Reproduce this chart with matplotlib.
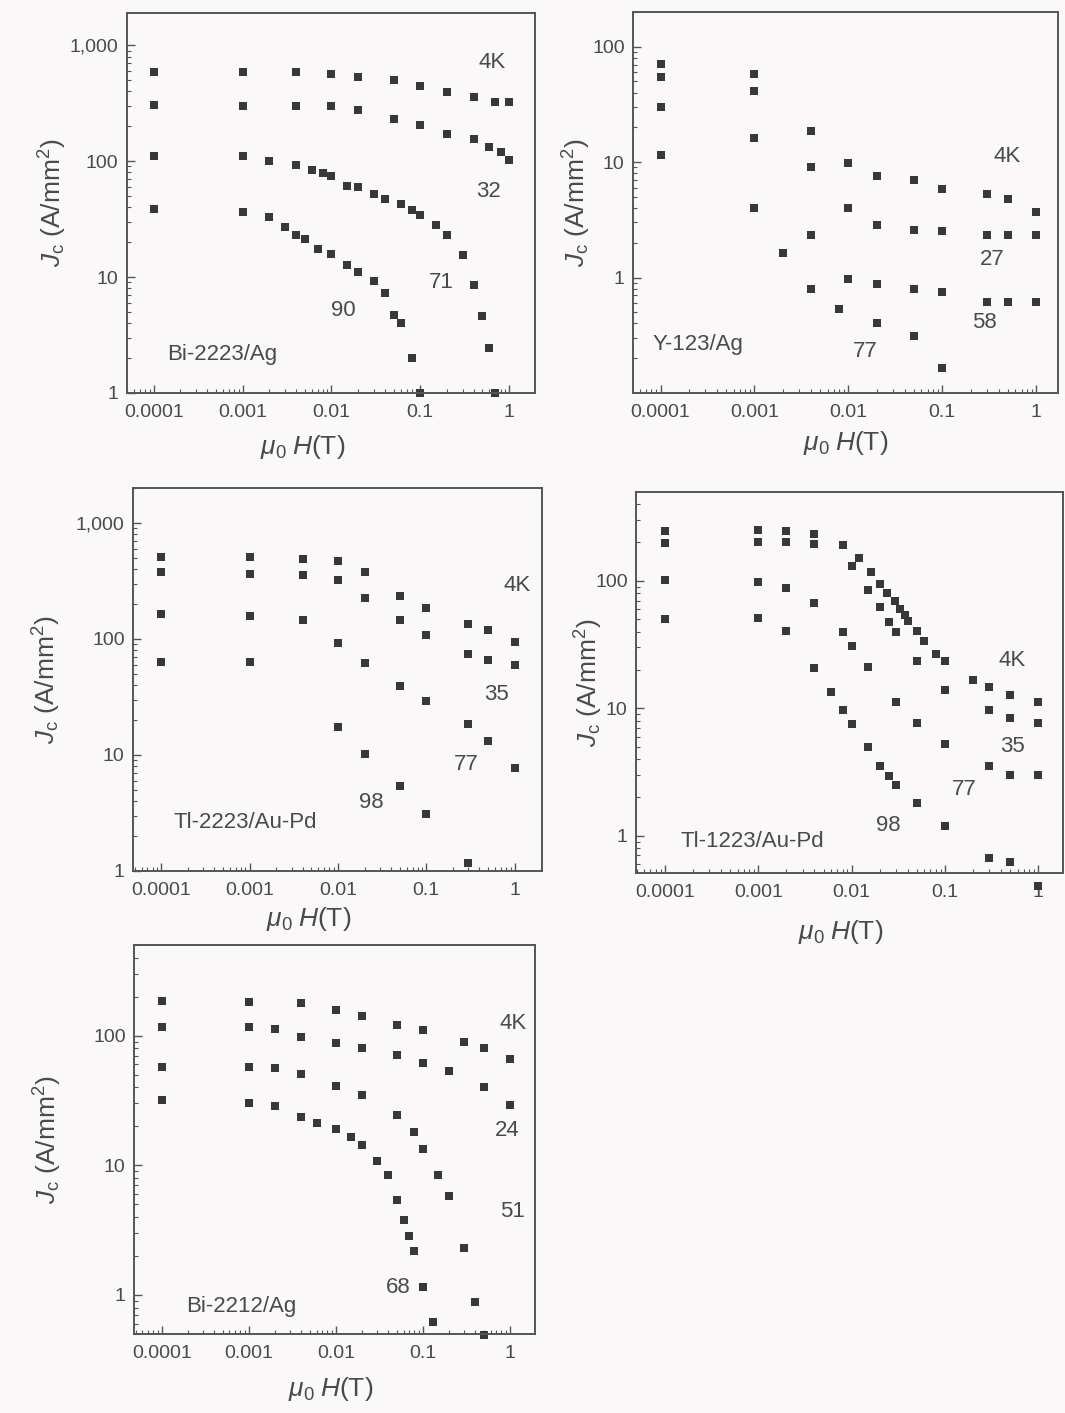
import matplotlib
matplotlib.use('Agg')
import matplotlib.pyplot as plt
from matplotlib.ticker import FixedLocator, FixedFormatter, NullFormatter, LogLocator

plt.rcParams['font.family'] = ['Liberation Sans', 'DejaVu Sans']
plt.rcParams['mathtext.fontset'] = 'custom'
plt.rcParams['mathtext.rm'] = 'Liberation Sans'
plt.rcParams['mathtext.it'] = 'Liberation Sans:italic'

# Bi-2223/Ag
h1_4 = [1e-4, 1e-3, 0.004, 0.01, 0.02, 0.05, 0.1, 0.2, 0.4, 0.7, 1.0]
j1_4 = [585, 585, 585, 570, 537, 499, 449, 394, 357, 321, 324]
h1_32 = [1e-4, 1e-3, 0.004, 0.01, 0.02, 0.05, 0.1, 0.2, 0.4, 0.6, 0.8, 1.0]
j1_32 = [308, 302, 302, 302, 279, 233, 204, 173, 154, 132, 120, 103]
h1_71 = [1e-4, 1e-3, 0.002, 0.004, 0.006, 0.008, 0.01, 0.015, 0.02, 0.03, 0.04,
         0.06, 0.08, 0.1, 0.15, 0.2, 0.3, 0.4, 0.5, 0.6, 0.7]
j1_71 = [110, 110, 101, 93.5, 84.7, 79.4, 74.3, 61.6, 59.3, 52.6, 47.6,
         42.6, 37.6, 34.2, 28, 23, 15.5, 8.6, 4.6, 2.43, 1.0]
h1_90 = [1e-4, 1e-3, 0.002, 0.003, 0.004, 0.005, 0.007, 0.01, 0.015, 0.02, 0.03,
         0.04, 0.05, 0.06, 0.08, 0.1]
j1_90 = [38.3, 36.3, 32.7, 27, 23.3, 21.1, 17.4, 15.7, 12.8, 11.1, 9.2,
         7.3, 4.67, 4.0, 1.99, 1.0]

# Y-123/Ag
h2 = [1e-4, 1e-3, 0.004, 0.01, 0.02, 0.05, 0.1, 0.3, 0.5, 1.0]
j2_4 = [70.3, 58.5, 18.8, 9.77, 7.55, 6.97, 5.9, 5.27, 4.84, 3.69]
j2_27 = [54.7, 41.4, 9.0, 3.97, 2.83, 2.56, 2.53, 2.32, 2.32, 2.32]
j2_58 = [30.3, 16.3, 2.32, 0.97, 0.875, 0.79, 0.75, 0.62, 0.62, 0.62]
h2_77 = [1e-4, 1e-3, 0.002, 0.004, 0.008, 0.02, 0.05, 0.1]
j2_77 = [11.6, 3.97, 1.63, 0.79, 0.53, 0.40, 0.31, 0.166]

# Tl-2223/Au-Pd
h3 = [1e-4, 1e-3, 0.004, 0.01, 0.02, 0.05, 0.1, 0.3, 0.5, 1.0]
j3_4 = [505, 503, 492, 467, 375, 233, 186, 135, 120, 94.4]
j3_35 = [375, 365, 358, 320, 226, 146, 107, 74.3, 65.2, 59.7]
j3_77 = [165, 158, 146, 92.5, 61.4, 39.4, 29.2, 18.5, 13.3, 7.75]
h3_98 = [1e-4, 1e-3, 0.01, 0.02, 0.05, 0.1, 0.3]
j3_98 = [63.4, 63.4, 17.3, 10.2, 5.38, 3.08, 1.17]

# Tl-1223/Au-Pd
h4_4 = [1e-4, 1e-3, 0.002, 0.004, 0.008, 0.012, 0.016, 0.02, 0.024, 0.029, 0.033,
        0.037, 0.04, 0.05, 0.06, 0.08, 0.1, 0.2, 0.3, 0.5, 1.0]
j4_4 = [247, 250, 247, 232, 191, 150, 118, 95, 81, 69, 60,
        54, 48.4, 40.5, 34, 26.7, 23.3, 16.6, 14.6, 12.7, 11.1]
h4_35 = [1e-4, 1e-3, 0.002, 0.004, 0.01, 0.015, 0.02, 0.025, 0.03, 0.05, 0.1, 0.3, 0.5, 1.0]
j4_35 = [199, 200, 202, 196, 131, 84.6, 62.7, 47.3, 39.5, 23.7, 13.9, 9.7, 8.36, 7.73]
h4_77 = [1e-4, 1e-3, 0.002, 0.004, 0.008, 0.01, 0.015, 0.03, 0.05, 0.1, 0.3, 0.5, 1.0]
j4_77 = [101, 98, 88, 66.6, 40, 31, 20.9, 11.1, 7.73, 5.26, 3.53, 2.97, 2.97]
h4_98 = [1e-4, 1e-3, 0.002, 0.004, 0.006, 0.008, 0.01, 0.015, 0.02, 0.025, 0.03,
         0.05, 0.1, 0.3, 0.5, 1.0]
j4_98 = [50, 51, 40.4, 20.7, 13.4, 9.7, 7.5, 4.94, 3.53, 2.95, 2.48,
         1.82, 1.2, 0.67, 0.62, 0.40]

# Bi-2212/Ag
h5_4 = [1e-4, 1e-3, 0.004, 0.01, 0.02, 0.05, 0.1, 0.3, 0.5, 1.0]
j5_4 = [185, 183, 180, 158, 142, 121, 111, 90, 81, 66]
h5_24 = [1e-4, 1e-3, 0.002, 0.004, 0.01, 0.02, 0.05, 0.1, 0.2, 0.5, 1.0]
j5_24 = [117, 117, 113, 98, 88, 80, 71, 61, 53, 40, 29.4]
h5_51 = [1e-4, 1e-3, 0.002, 0.004, 0.01, 0.02, 0.05, 0.08, 0.1, 0.15, 0.2, 0.3, 0.4, 0.5]
j5_51 = [57.7, 57, 56.3, 50.4, 40.9, 34.9, 24.4, 18.2, 13.4, 8.4, 5.8, 2.29, 0.89, 0.49]
h5_68 = [1e-4, 1e-3, 0.002, 0.004, 0.006, 0.01, 0.015, 0.02, 0.03, 0.04, 0.05,
         0.06, 0.07, 0.08, 0.1, 0.13]
j5_68 = [31.9, 30.4, 28.9, 23.7, 21.2, 19.1, 16.6, 14.4, 10.8, 8.4, 5.41,
         3.78, 2.85, 2.18, 1.16, 0.62]

xtick_vals = [1e-4, 1e-3, 1e-2, 1e-1, 1]
xtick_text = ['0.0001', '0.001', '0.01', '0.1', '1']

bg = '#faf8f9'
mark = '#383838'
txt = '#4a4a4a'

fig = plt.figure(figsize=(10.65, 14.13), dpi=100, facecolor=bg)


def setup(ax, xlim, ylim, yvals, ytext, ylab_x, xlab_xy):
    ax.set_facecolor(bg)
    ax.set_xscale('log')
    ax.set_yscale('log')
    ax.set_xlim(*xlim)
    ax.set_ylim(*ylim)
    ax.xaxis.set_major_locator(FixedLocator(xtick_vals))
    ax.xaxis.set_major_formatter(FixedFormatter(xtick_text))
    ax.yaxis.set_major_locator(FixedLocator(yvals))
    ax.yaxis.set_major_formatter(FixedFormatter(ytext))
    ax.xaxis.set_minor_locator(LogLocator(base=10, subs=range(2, 10)))
    ax.yaxis.set_minor_locator(LogLocator(base=10, subs=range(2, 10)))
    ax.xaxis.set_minor_formatter(NullFormatter())
    ax.yaxis.set_minor_formatter(NullFormatter())
    ax.tick_params(which='both', direction='in', top=False, right=False,
                   colors='#555555', labelcolor=txt, labelsize=14)
    ax.tick_params(which='major', length=6, width=1.0)
    ax.tick_params(which='minor', length=3, width=0.8)
    ax.tick_params(axis='x', which='major', pad=8)
    ax.tick_params(axis='y', which='major', pad=6)
    for s in ax.spines.values():
        s.set_color('#555555')
        s.set_linewidth(1.4)
    ax.set_xlabel(r'$\mu_0\;H$(T)', fontsize=19, color=txt)
    ax.set_ylabel(r'$J_{\rm c}$ (A/mm$^2$)', fontsize=19, color=txt)
    ax.yaxis.set_label_coords(ylab_x, 0.5)
    ax.xaxis.set_label_coords(*xlab_xy)


def dots(ax, h, j):
    ax.plot(h, j, 's', color=mark, markersize=5.7, markeredgewidth=0, clip_on=False)


def lab(ax, x, y, s, size=16):
    ax.text(x, y, s, fontsize=size, color=txt, ha='center', va='center')


# panel 1
ax1 = fig.add_axes([0.1192, 0.7219, 0.3831, 0.2689])
setup(ax1, (5.0e-5, 1.95), (1, 1900), [1, 10, 100, 1000], ['1', '10', '100', '1,000'],
      -0.142, (0.43, -0.105))
dots(ax1, h1_4, j1_4)
dots(ax1, h1_32, j1_32)
dots(ax1, h1_71, j1_71)
dots(ax1, h1_90, j1_90)
lab(ax1, 0.64, 705, '4K')
lab(ax1, 0.58, 55, '32')
lab(ax1, 0.172, 9.06, '71')
lab(ax1, 0.0137, 5.1, '90')
lab(ax1, 0.00059, 2.15, 'Bi-2223/Ag')

# panel 2
ax2 = fig.add_axes([0.5944, 0.7219, 0.3991, 0.2696])
setup(ax2, (5.1e-5, 1.71), (0.1, 200), [1, 10, 100], ['1', '10', '100'],
      -0.094, (0.5, -0.095))
dots(ax2, h2, j2_4)
dots(ax2, h2, j2_27)
dots(ax2, h2, j2_58)
dots(ax2, h2_77, j2_77)
lab(ax2, 0.49, 11.2, '4K')
lab(ax2, 0.34, 1.44, '27')
lab(ax2, 0.28, 0.41, '58')
lab(ax2, 0.0152, 0.23, '77')
lab(ax2, 0.00025, 0.265, 'Y-123/Ag')

# panel 3
ax3 = fig.add_axes([0.1249, 0.3836, 0.384, 0.2711])
setup(ax3, (4.8e-5, 2.04), (1, 2000), [1, 10, 100, 1000], ['1', '10', '100', '1,000'],
      -0.171, (0.43, -0.09))
dots(ax3, h3, j3_4)
dots(ax3, h3, j3_35)
dots(ax3, h3, j3_77)
dots(ax3, h3_98, j3_98)
lab(ax3, 1.06, 288, '4K')
lab(ax3, 0.63, 33.3, '35')
lab(ax3, 0.28, 8.2, '77')
lab(ax3, 0.0239, 3.86, '98')
lab(ax3, 0.0009, 2.61, 'Tl-2223/Au-Pd')

# panel 4
ax4 = fig.add_axes([0.5972, 0.3822, 0.4009, 0.2696])
setup(ax4, (4.9e-5, 1.84), (0.51, 498), [1, 10, 100], ['1', '10', '100'],
      -0.073, (0.48, -0.118))
dots(ax4, h4_4, j4_4)
dots(ax4, h4_35, j4_35)
dots(ax4, h4_77, j4_77)
dots(ax4, h4_98, j4_98)
lab(ax4, 0.53, 23.9, '4K')
lab(ax4, 0.53, 5.0, '35')
lab(ax4, 0.161, 2.29, '77')
lab(ax4, 0.0247, 1.2, '98')
lab(ax4, 0.00087, 0.90, 'Tl-1223/Au-Pd')

# panel 5
ax5 = fig.add_axes([0.1258, 0.0559, 0.3765, 0.2753])
setup(ax5, (4.8e-5, 1.94), (0.5, 500), [1, 10, 100], ['1', '10', '100'],
      -0.175, (0.49, -0.105))
dots(ax5, h5_4, j5_4)
dots(ax5, h5_24, j5_24)
dots(ax5, h5_51, j5_51)
dots(ax5, h5_68, j5_68)
lab(ax5, 1.09, 124, '4K')
lab(ax5, 0.94, 18.7, '24')
lab(ax5, 1.07, 4.4, '51')
lab(ax5, 0.052, 1.15, '68')
lab(ax5, 0.00081, 0.81, 'Bi-2212/Ag')

fig.savefig('out.png', dpi=100, facecolor=bg)
